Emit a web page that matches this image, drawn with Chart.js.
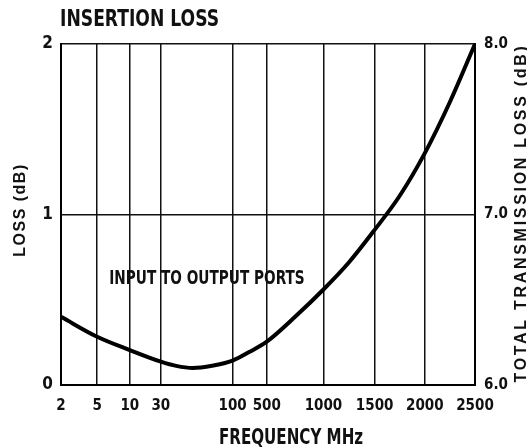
<!DOCTYPE html>
<html>
<head>
<meta charset="utf-8">
<script src="https://cdn.jsdelivr.net/npm/chart.js@4/dist/chart.umd.min.js"></script>
<style>
  body { margin: 0; background: #fff; }
  #wrap { width: 527px; height: 447px; }
</style>
</head>
<body>
<div id="wrap"><canvas id="graph" width="527" height="447"></canvas></div>
<script>
// data
const tickFreqs = [2, 5, 10, 30, 100, 500, 1000, 1500, 2000, 2500];   // MHz
const freqMHz = [2, 5, 10, 30, 45, 61, 80, 100, 300, 500, 750, 1000, 1250, 1500, 1750, 2000, 2250, 2500];
const lossDb = [0.40, 0.283, 0.205, 0.137, 0.112, 0.10, 0.113, 0.143, 0.195, 0.254, 0.40, 0.56, 0.72, 0.91, 1.11, 1.36, 1.66, 2.0];
const noteText = 'INPUT TO OUTPUT PORTS';
const noteAt = { freq: 75, loss: 0.62 };

const narrow = '"Liberation Sans Narrow", "DejaVu Sans Condensed", "Liberation Sans", sans-serif';
const wide = '"Liberation Sans", Arial, sans-serif';
const ink = '#111';

// the frequency axis of the original is not linear or log: each tick sits on its own gridline
class PiecewiseScale extends Chart.LinearScale {
    static id = 'piecewise';
    static defaults = {};

    toDecimal(v) {
        const stops = this.options.stops, fr = this.options.fractions;
        if (v <= stops[0]) return fr[0];
        for (let i = 1; i < stops.length; i++) {
            if (v <= stops[i]) {
                const t = (v - stops[i - 1]) / (stops[i] - stops[i - 1]);
                return fr[i - 1] + t * (fr[i] - fr[i - 1]);
            }
        }
        return fr[fr.length - 1];
    }

    getPixelForValue(value) {
        if (value === null || value === undefined) return NaN;
        return this.getPixelForDecimal(this.toDecimal(value));
    }

    getValueForPixel(pixel) {
        const d = this.getDecimalForPixel(pixel);
        const stops = this.options.stops, fr = this.options.fractions;
        for (let i = 1; i < fr.length; i++) {
            if (d <= fr[i]) {
                const t = (d - fr[i - 1]) / (fr[i] - fr[i - 1]);
                return stops[i - 1] + t * (stops[i] - stops[i - 1]);
            }
        }
        return stops[stops.length - 1];
    }
}
Chart.register(PiecewiseScale);

// squeezes text sideways, the original lettering is a tall condensed face
function squeezed(ctx, text, x, y, sx) {
    ctx.save();
    ctx.translate(x, y);
    ctx.scale(sx, 1);
    ctx.fillText(text, 0, 0);
    ctx.restore();
}

const textPlugin = {
    id: 'chartTexts',
    afterDraw(chart) {
        const ctx = chart.ctx;
        const area = chart.chartArea;
        const xs = chart.scales.x, ys = chart.scales.y;
        ctx.save();
        ctx.fillStyle = ink;

        ctx.font = 'bold 23px ' + narrow;
        ctx.textAlign = 'left';
        ctx.textBaseline = 'alphabetic';
        squeezed(ctx, 'INSERTION LOSS', area.left - 1, 26, 0.83);

        ctx.font = 'bold 19px ' + narrow;
        ctx.textAlign = 'center';
        ctx.textBaseline = 'middle';
        squeezed(ctx, noteText, xs.getPixelForValue(noteAt.freq), ys.getPixelForValue(noteAt.loss), 0.8);

        ctx.font = 'bold 21px ' + narrow;
        ctx.textBaseline = 'alphabetic';
        squeezed(ctx, 'FREQUENCY MHz', (area.left + area.right) / 2 + 23, 444, 0.8);

        ctx.font = 'bold 16px ' + wide;
        ctx.textBaseline = 'alphabetic';
        ctx.letterSpacing = '1.5px';
        ctx.save();
        ctx.translate(25, 210);
        ctx.rotate(-Math.PI / 2);
        ctx.fillText('LOSS (dB)', 0, 0);
        ctx.restore();

        ctx.letterSpacing = '2.7px';
        ctx.save();
        ctx.translate(526, 213);
        ctx.rotate(-Math.PI / 2);
        ctx.fillText('TOTAL TRANSMISSION LOSS (dB)', 0, 0);
        ctx.restore();

        ctx.restore();
    }
};

const canvas = document.getElementById('graph').getContext('2d');
const points = freqMHz.map((f, i) => ({ x: f, y: lossDb[i] }));
const tickFont = { family: narrow, size: 15, weight: 'bold' };

new Chart(canvas, {
    type: 'line',
    data: {
        datasets: [{
            label: noteText,
            data: points,
            borderColor: '#000',
            borderWidth: 4,
            pointRadius: 0,
            fill: false,
            cubicInterpolationMode: 'monotone',
            yAxisID: 'y'
        }]
    },
    options: {
        responsive: false,
        animation: false,
        layout: { padding: { top: 44, left: 0, right: 0, bottom: 0 } },
        plugins: {
            legend: { display: false },
            tooltip: { enabled: false }
        },
        scales: {
            x: {
                type: 'piecewise',
                position: 'bottom',
                min: 2,
                max: 2500,
                stops: tickFreqs,
                fractions: [0, 0.0873, 0.1661, 0.2412, 0.4145, 0.4970, 0.6339, 0.7576, 0.8788, 1],
                afterBuildTicks: (axis) => { axis.ticks = tickFreqs.map(v => ({ value: v })); },
                afterFit: (axis) => { axis.height = 62; },
                grid: { color: ink, lineWidth: 1.5, drawTicks: false },
                border: { color: '#000', width: 2 },
                ticks: {
                    autoSkip: false,
                    maxRotation: 0,
                    padding: 12,
                    color: ink,
                    font: tickFont,
                    callback: (v) => String(v)
                }
            },
            y: {
                position: 'left',
                min: 0,
                max: 2,
                afterFit: (axis) => { axis.width = 61; },
                grid: { color: ink, lineWidth: 1.5, drawTicks: false },
                border: { color: '#000', width: 2 },
                ticks: {
                    stepSize: 1,
                    padding: 8,
                    color: ink,
                    font: { family: narrow, size: 17, weight: 'bold' }
                }
            },
            y2: {
                position: 'right',
                min: 6,
                max: 8,
                afterFit: (axis) => { axis.width = 52; },
                grid: { display: false, drawTicks: false },
                border: { color: '#000', width: 2 },
                ticks: {
                    stepSize: 1,
                    padding: 9,
                    color: ink,
                    font: tickFont,
                    callback: (v) => v.toFixed(1)
                }
            }
        }
    },
    plugins: [textPlugin]
});
</script>
</body>
</html>
